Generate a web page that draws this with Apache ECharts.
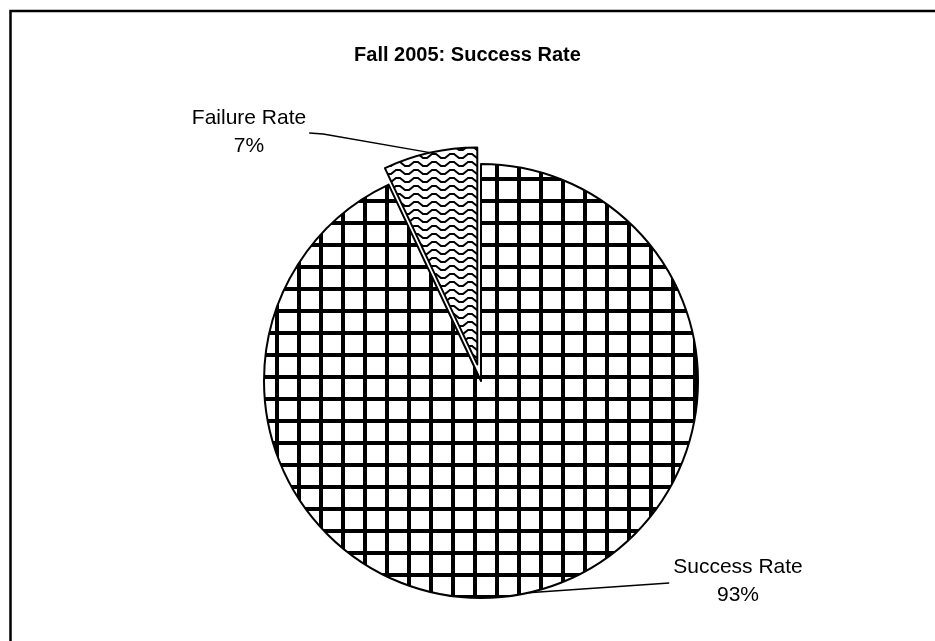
<!DOCTYPE html>
<html><head><meta charset="utf-8">
<script src="https://cdn.jsdelivr.net/npm/echarts@6/dist/echarts.min.js"></script>
<style>html,body{margin:0;padding:0;background:#fff}#c{width:935px;height:641px}</style>
</head><body><div id="c"></div>
<script>
const titleText = 'Fall 2005: Success Rate';
const categories = ['Success Rate', 'Failure Rate'];
const values = [93, 7];
const explodedFlags = [false, true];

function gridPattern() {
  const c = document.createElement('canvas'); c.width = 22; c.height = 22;
  const g = c.getContext('2d');
  g.fillStyle = '#fff'; g.fillRect(0, 0, 22, 22);
  g.fillStyle = '#000'; g.fillRect(11, 0, 4, 22); g.fillRect(0, 1, 22, 4);
  return c;
}
function wavePattern() {
  const c = document.createElement('canvas'); c.width = 18; c.height = 8;
  const g = c.getContext('2d');
  g.fillStyle = '#fff'; g.fillRect(0, 0, 18, 8);
  g.strokeStyle = '#000'; g.lineWidth = 2;
  g.beginPath(); g.moveTo(-1, 2); g.lineTo(4, 2); g.lineTo(9, 6); g.lineTo(13, 6); g.lineTo(18, 2); g.lineTo(19, 2); g.stroke();
  return c;
}
const patterns = [gridPattern(), wavePattern()];
const labelPos = [[738, 581], [249, 132]];
const FONT = '"Liberation Sans", Arial, sans-serif';
const CENTER = [481, 381], RADIUS = 217, EXPLODE = 17;

// angular mid-point (clockwise from 12 o'clock) of each slice, from the data
const total = values.reduce((a, b) => a + b, 0);
let acc = 0;
const midAngles = values.map(v => { const m = (acc + v / 2) / total * 2 * Math.PI; acc += v; return m; });

function makeSeries(k) {
  const off = explodedFlags[k] ? EXPLODE : 0;
  const cx = CENTER[0] + Math.sin(midAngles[k]) * off;
  const cy = CENTER[1] - Math.cos(midAngles[k]) * off;
  return {
    type: 'pie', silent: true,
    center: [cx, cy], radius: RADIUS,
    startAngle: 90, clockwise: true,
    emphasis: { disabled: true },
    label: {
      show: true, fontFamily: FONT, fontSize: 21, color: '#000', lineHeight: 28, align: 'center',
      formatter: p => p.name + '\n' + p.value + '%'
    },
    labelLine: { show: true, lineStyle: { color: '#000', width: 1.5 } },
    labelLayout: function (p) {
      if (p.dataIndex !== k) return {};
      const pos = labelPos[k];
      const w = p.labelRect.width;
      const a = p.labelLinePoints ? p.labelLinePoints[0] : [0, 0];
      let pts;
      if (k === 0) {
        pts = [a, [pos[0] - w / 2 - 4, pos[1] + 2]];
      } else {
        const ex = pos[0] + w / 2 + 3;
        pts = [a, [ex + 14, pos[1] + 2], [ex, pos[1] + 1]];
      }
      return { x: pos[0], y: pos[1], align: 'center', verticalAlign: 'middle', labelLinePoints: pts };
    },
    data: categories.map((n, i) => i === k ? {
      name: n, value: values[i],
      itemStyle: { color: { image: patterns[i], repeat: 'repeat' }, borderColor: '#000', borderWidth: 2 }
    } : {
      name: n, value: values[i],
      itemStyle: { color: 'rgba(0,0,0,0)', borderWidth: 0 },
      label: { show: false }, labelLine: { show: false }
    })
  };
}

const chart = echarts.init(document.getElementById('c'), null, { renderer: 'canvas' });
chart.setOption({
  animation: false,
  backgroundColor: '#fff',
  title: {
    text: titleText, left: 'center', top: 40,
    textStyle: { fontFamily: FONT, fontSize: 20, fontWeight: 'bold', color: '#000' }
  },
  graphic: [{
    type: 'rect', shape: { x: 10.5, y: 11, width: 1000, height: 1000 },
    style: { fill: 'none', stroke: '#000', lineWidth: 2.5 }, silent: true
  }],
  series: categories.map((_, k) => makeSeries(k))
});
</script></body></html>
